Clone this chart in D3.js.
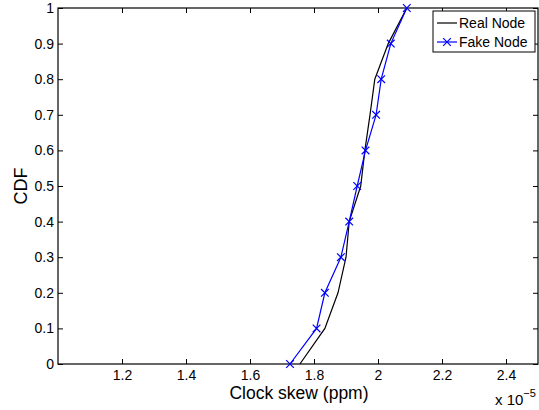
<!DOCTYPE html>
<html>
<head>
<meta charset="utf-8">
<script src="https://cdn.jsdelivr.net/npm/d3@7"></script>
<style>
  body { margin: 0; background: #fff; }
  text { font-family: "Liberation Sans", Arial, sans-serif; }
</style>
</head>
<body>
<div id="chart"></div>
<script>
const width = 539
const height = 410

const cdf = [0, 0.1, 0.2, 0.3, 0.4, 0.5, 0.6, 0.7, 0.8, 0.9, 1]
const realNode = [1.756, 1.834, 1.875, 1.9, 1.91, 1.946, 1.959, 1.975, 1.99, 2.032, 2.09]
const fakeNode = [1.725, 1.808, 1.834, 1.884, 1.91, 1.935, 1.961, 1.994, 2.01, 2.04, 2.09]
const xTicks = [1.2, 1.4, 1.6, 1.8, 2, 2.2, 2.4]
const yTicks = [0, 0.1, 0.2, 0.3, 0.4, 0.5, 0.6, 0.7, 0.8, 0.9, 1]

const margin = { left: 58, right: 1, top: 8, bottom: 46 }

const svg = d3.select('#chart')
  .append('svg')
  .attr('width', width)
  .attr('height', height)

const x = d3.scaleLinear().domain([1.0, 2.5]).range([margin.left, width - margin.right])
const y = d3.scaleLinear().domain([0, 1]).range([height - margin.bottom, margin.top])

const tick = 5

// x axis bottom + top
svg.append('g')
  .attr('transform', `translate(0,${y(0)})`)
  .call(d3.axisBottom(x).tickValues(xTicks).tickSize(-tick).tickPadding(6)
    .tickFormat(d => d3.format('')(d)))
  .call(g => g.select('.domain').remove())
  .selectAll('text').attr('font-size', 14).attr('fill', '#000')

svg.append('g')
  .attr('transform', `translate(0,${y(1)})`)
  .call(d3.axisTop(x).tickValues(xTicks).tickSize(-tick).tickFormat(''))
  .call(g => g.select('.domain').remove())

// y axis left + right
svg.append('g')
  .attr('transform', `translate(${x(1.0)},0)`)
  .call(d3.axisLeft(y).tickValues(yTicks).tickSize(-tick).tickPadding(4)
    .tickFormat(d => d3.format('')(d)))
  .call(g => g.select('.domain').remove())
  .selectAll('text').attr('font-size', 14).attr('fill', '#000')

svg.append('g')
  .attr('transform', `translate(${x(2.5)},0)`)
  .call(d3.axisRight(y).tickValues(yTicks).tickSize(-tick).tickFormat(''))
  .call(g => g.select('.domain').remove())

svg.selectAll('.tick line').attr('stroke', '#000')

// box
svg.append('rect')
  .attr('x', x(1.0))
  .attr('y', y(1))
  .attr('width', x(2.5) - x(1.0))
  .attr('height', y(0) - y(1))
  .attr('fill', 'none')
  .attr('stroke', '#000')
  .attr('stroke-width', 1.2)

const line = d3.line()
  .x(d => x(d[0]))
  .y(d => y(d[1]))

svg.append('path')
  .datum(realNode.map((v, i) => [v, cdf[i]]))
  .attr('d', line)
  .attr('fill', 'none')
  .attr('stroke', '#000')
  .attr('stroke-width', 1.2)

const fake = fakeNode.map((v, i) => [v, cdf[i]])
svg.append('path')
  .datum(fake)
  .attr('d', line)
  .attr('fill', 'none')
  .attr('stroke', '#0000ff')
  .attr('stroke-width', 1.2)

const cross = d3.symbol().type(d3.symbolX).size(40)
svg.selectAll('.mark')
  .data(fake)
  .enter().append('path')
  .attr('class', 'mark')
  .attr('d', cross)
  .attr('transform', d => `translate(${x(d[0])},${y(d[1])})`)
  .attr('fill', 'none')
  .attr('stroke', '#0000ff')
  .attr('stroke-width', 1.2)

// labels
svg.append('text')
  .attr('x', 299)
  .attr('y', 399)
  .attr('text-anchor', 'middle')
  .attr('font-size', 17.5)
  .text('Clock skew (ppm)')

svg.append('text')
  .attr('transform', `translate(27,${(y(0) + y(1)) / 2}) rotate(-90)`)
  .attr('text-anchor', 'middle')
  .attr('font-size', 18)
  .text('CDF')

const mult = svg.append('text')
  .attr('x', 495)
  .attr('y', 405)
  .attr('font-size', 15)
mult.append('tspan').text('x 10')
mult.append('tspan').attr('dy', -8).attr('font-size', 11).text('\u22125')

// legend
const lg = svg.append('g').attr('transform', 'translate(433,11)')
lg.append('rect')
  .attr('width', 102)
  .attr('height', 41)
  .attr('fill', '#fff')
  .attr('stroke', '#000')
  .attr('stroke-width', 1)

const items = [
  { name: 'Real Node', color: '#000', marker: false },
  { name: 'Fake Node', color: '#0000ff', marker: true }
]
items.forEach((it, i) => {
  const cy = 12 + i * 19
  lg.append('line')
    .attr('x1', 4).attr('x2', 24)
    .attr('y1', cy).attr('y2', cy)
    .attr('stroke', it.color)
    .attr('stroke-width', 1.2)
  if (it.marker) {
    lg.append('path')
      .attr('d', cross)
      .attr('transform', `translate(14,${cy})`)
      .attr('fill', 'none')
      .attr('stroke', it.color)
      .attr('stroke-width', 1.2)
  }
  lg.append('text')
    .attr('x', 26)
    .attr('y', cy + 5)
    .attr('font-size', 14)
    .text(it.name)
})
</script>
</body>
</html>
